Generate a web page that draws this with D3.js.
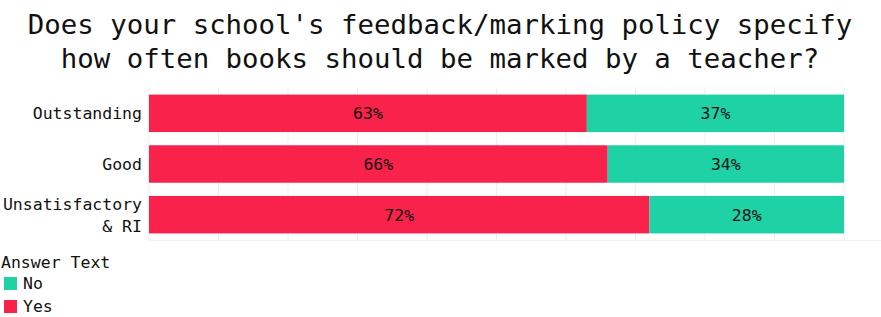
<!DOCTYPE html>
<html>
<head>
<meta charset="utf-8">
<script src="https://cdn.jsdelivr.net/npm/d3@7"></script>
<style>
body { margin: 0; background: #fff; }
text { font-family: "DejaVu Sans Mono", "Liberation Mono", monospace; fill: #111; }
</style>
</head>
<body>
<div id="chart"></div>
<script>
var titleLines = ["Does your school's feedback/marking policy specify", "how often books should be marked by a teacher?"];
var categories = ["Outstanding", "Good", "Unsatisfactory\n& RI"];
var yesValues = [63, 66, 72];
var noValues = [37, 34, 28];
var seriesNames = ["No", "Yes"];
var xTicks = [0, 10, 20, 30, 40, 50, 60, 70, 80, 90, 100];

var width = 881, height = 317;
var red = "#f9224b", teal = "#1fd2a5";

var svg = d3.select("#chart").append("svg")
    .attr("width", width)
    .attr("height", height)

var x = d3.scaleLinear().domain([0, 100]).range([149, 844]);
var y = d3.scaleBand().domain(categories).range([88, 240]).paddingInner(0.26).paddingOuter(0.13);

// title
svg.selectAll(".title").data(titleLines).enter().append("text")
    .attr("class", "title")
    .attr("x", 440)
    .attr("y", function(d, i){ return 34 + i * 34; })
    .attr("text-anchor", "middle")
    .attr("font-size", 27.4)
    .text(function(d){ return d; })

// grid
svg.append("g").selectAll("line").data(xTicks).enter().append("line")
    .attr("x1", function(d){ return x(d); })
    .attr("x2", function(d){ return x(d); })
    .attr("y1", 88)
    .attr("y2", 240)
    .attr("stroke", "#eeeeee")
    .attr("stroke-width", 1)

svg.append("line")
    .attr("x1", 149).attr("x2", width)
    .attr("y1", 240.5).attr("y2", 240.5)
    .attr("stroke", "#f2f2f2")

var rows = categories.map(function(c, i){ return {cat: c, yes: yesValues[i], no: noValues[i]}; });

var bars = svg.append("g").selectAll("g").data(rows).enter().append("g")

bars.append("rect")
    .attr("x", x(0))
    .attr("y", function(d){ return y(d.cat); })
    .attr("width", function(d){ return x(d.yes) - x(0); })
    .attr("height", y.bandwidth())
    .attr("fill", red)

bars.append("rect")
    .attr("x", function(d){ return x(d.yes); })
    .attr("y", function(d){ return y(d.cat); })
    .attr("width", function(d){ return x(d.yes + d.no) - x(d.yes); })
    .attr("height", y.bandwidth())
    .attr("fill", teal)

bars.append("text")
    .attr("x", function(d){ return (x(0) + x(d.yes)) / 2; })
    .attr("y", function(d){ return y(d.cat) + y.bandwidth() / 2 + 6; })
    .attr("text-anchor", "middle")
    .attr("font-size", 16.5)
    .text(function(d){ return d.yes + "%"; })

bars.append("text")
    .attr("x", function(d){ return (x(d.yes) + x(d.yes + d.no)) / 2; })
    .attr("y", function(d){ return y(d.cat) + y.bandwidth() / 2 + 6; })
    .attr("text-anchor", "middle")
    .attr("font-size", 16.5)
    .text(function(d){ return d.no + "%"; })

// category labels
var catLabels = svg.append("g").selectAll("text").data(categories).enter().append("text")
    .attr("text-anchor", "end")
    .attr("font-size", 16.5)
    .attr("transform", function(d){
        var n = d.split("\n").length;
        return "translate(142," + (y(d) + y.bandwidth() / 2 + 6 - (n - 1) * 11) + ")";
    })

catLabels.selectAll("tspan").data(function(d){ return d.split("\n"); }).enter().append("tspan")
    .attr("x", 0)
    .attr("dy", function(d, i){ return i == 0 ? 0 : 22; })
    .text(function(d){ return d; })

// legend
svg.append("text")
    .attr("x", 1)
    .attr("y", 268)
    .attr("font-size", 16.5)
    .text("Answer Text")

var legend = svg.append("g").selectAll("g").data(seriesNames).enter().append("g")
    .attr("transform", function(d, i){ return "translate(4," + (277 + i * 23) + ")"; })

legend.append("rect")
    .attr("width", 13)
    .attr("height", 13)
    .attr("fill", function(d){ return d == "Yes" ? red : teal; })

legend.append("text")
    .attr("x", 19)
    .attr("y", 12)
    .attr("font-size", 16.5)
    .text(function(d){ return d; })
</script>
</body>
</html>
